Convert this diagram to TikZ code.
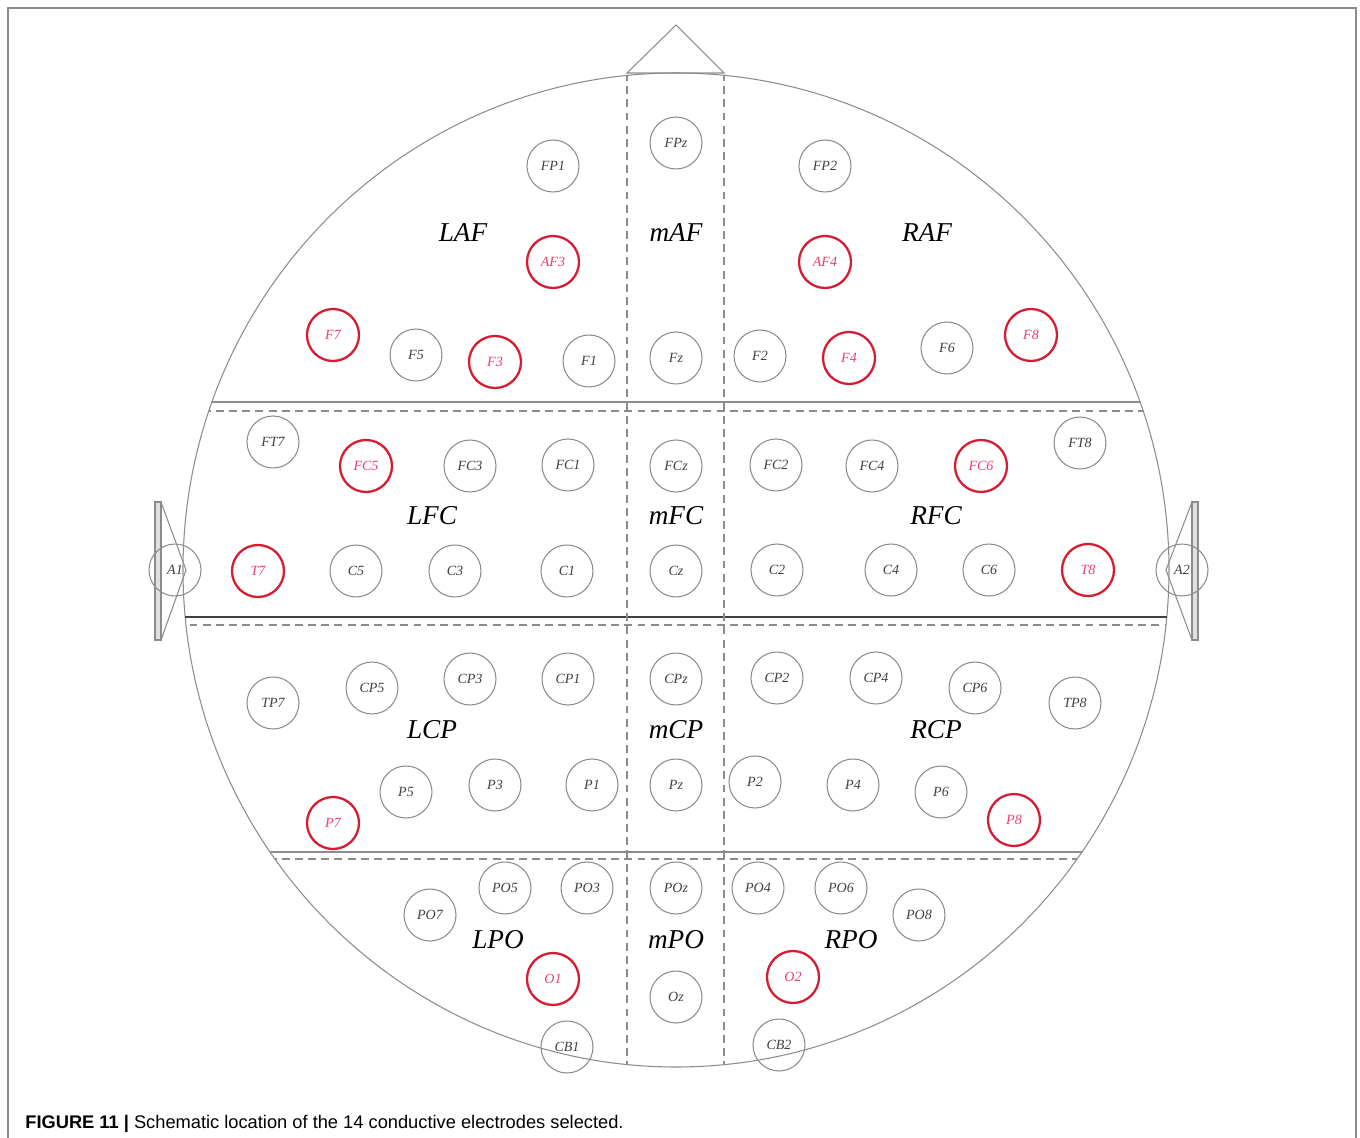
\documentclass[tikz,border=0pt]{standalone}
\usepackage{fontspec}
\setmainfont{Liberation Serif}
\newfontfamily\capfont{Liberation Sans}
\definecolor{linegray}{RGB}{140,140,140}
\definecolor{selred}{RGB}{214,28,48}
\definecolor{seltext}{RGB}{232,64,110}
\begin{document}
\begin{tikzpicture}[x=0.02cm,y=-0.02cm,
  elec/.style={draw=linegray,circle,line width=0.6pt,minimum size=1.04cm,inner sep=0pt,font=\fontsize{8}{8}\selectfont\itshape,text=black!75},
  sel/.style={elec,draw=selred,line width=1.3pt,text=seltext},
  region/.style={font=\fontsize{15.5}{16}\selectfont\itshape,inner sep=0pt},
  dashline/.style={linegray,line width=0.6pt,dash pattern=on 4.5pt off 3pt}]
\useasboundingbox (0,0) rectangle (1360,1138);
% frame
\draw[linegray,line width=0.6pt] (8,1138)--(8,8)--(1356,8)--(1356,1138);
% ears and nose
\draw[linegray,line width=0.6pt,fill=black!12] (155,502) rectangle (161,640) (1192,502) rectangle (1198,640);
\draw[linegray,line width=0.6pt] (161,502)--(186,570)--(161,640) (1192,502)--(1166,570)--(1192,640);
\draw[linegray,line width=0.6pt] (627,73)--(676,25)--(724,73)--cycle;
% head
\draw[linegray,line width=0.6pt] (676,570) ellipse [x radius=493,y radius=497];
\begin{scope}
\clip (676,570) ellipse [x radius=493,y radius=497];
\draw[linegray,line width=0.8pt] (150,402)--(1210,402) (150,852)--(1210,852);
\draw[black!75,line width=1.6pt] (150,617)--(1210,617);
\draw[dashline] (150,411)--(1210,411) (150,625)--(1210,625) (150,859)--(1210,859);
\draw[dashline] (627,73)--(627,1080) (724,73)--(724,1080);
\end{scope}
% electrodes
\foreach \n/\x/\y in {FP1/553/166,FPz/676/143,FP2/825/166,
  F5/416/355,F1/589/361,Fz/676/358,F2/760/356,F6/947/348,
  FT7/273/442,FC3/470/466,FC1/568/465,FCz/676/466,FC2/776/465,FC4/872/466,FT8/1080/443,
  A1/175/570,C5/356/571,C3/455/571,C1/567/571,Cz/676/571,C2/777/570,C4/891/570,C6/989/570,A2/1182/570,
  TP7/273/703,CP5/372/688,CP3/470/679,CP1/568/679,CPz/676/679,CP2/777/678,CP4/876/678,CP6/975/688,TP8/1075/703,
  P5/406/792,P3/495/785,P1/592/785,Pz/676/785,P2/755/782,P4/853/785,P6/941/792,
  PO7/430/915,PO5/505/888,PO3/587/888,POz/676/888,PO4/758/888,PO6/841/888,PO8/919/915,
  Oz/676/997,CB1/567/1047,CB2/779/1045}
  \node[elec] (\n) at (\x,\y) {\n};
\foreach \n/\x/\y in {AF3/553/262,AF4/825/262,F7/333/335,F3/495/362,F4/849/358,F8/1031/335,
  FC5/366/466,FC6/981/466,T7/258/571,T8/1088/570,P7/333/823,P8/1014/820,O1/553/979,O2/793/977}
  \node[sel] (\n) at (\x,\y) {\n};
% regions
\foreach \n/\x/\y in {LAF/463/233,mAF/676/233,RAF/927/233,LFC/432/516,mFC/676/516,RFC/936/516,
  LCP/432/730,mCP/676/730,RCP/936/730,LPO/498/940,mPO/676/940,RPO/851/940}
  \node[region] (\n) at (\x,\y) {\n};
% caption
\node[anchor=base west,inner sep=0pt,font=\capfont\fontsize{10.4}{12}\selectfont] (cap) at (25,1128)
  {\textbf{FIGURE 11 |} Schematic location of the 14 conductive electrodes selected.};
\end{tikzpicture}
\end{document}
